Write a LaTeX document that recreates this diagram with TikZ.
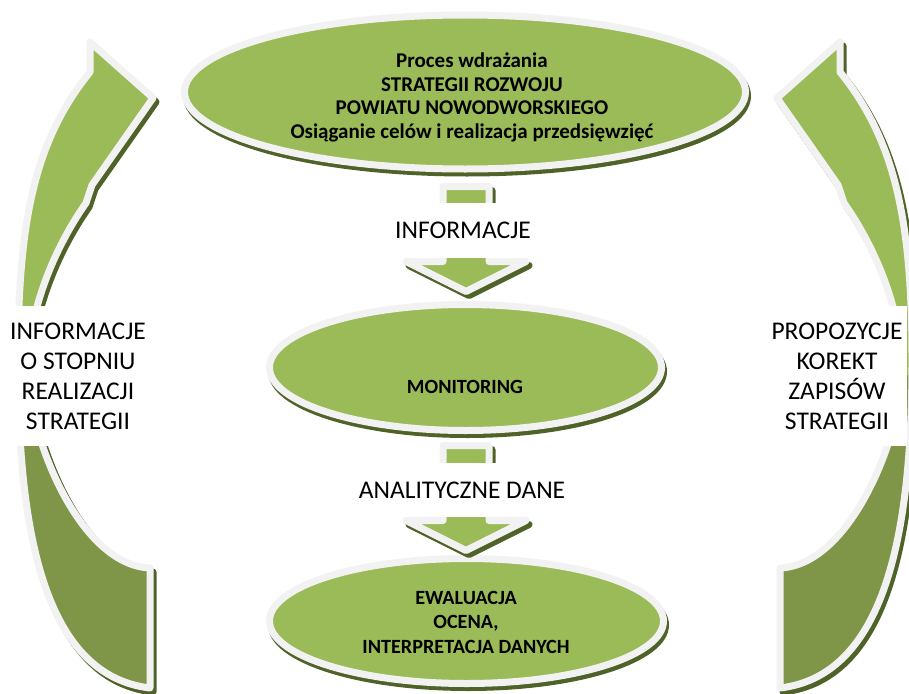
\documentclass[tikz,border=0pt]{standalone}
\usepackage{fontspec}
\setmainfont{Carlito}
\usetikzlibrary{positioning}
\definecolor{leafgreen}{HTML}{9BBB59}
\definecolor{olivegreen}{HTML}{7F9648}
\definecolor{shadowgreen}{HTML}{4F6228}
\definecolor{rimgray}{HTML}{F2F2F2}

\begin{document}
\begin{tikzpicture}[x=1pt,y=-1pt,
    rim/.style={draw=rimgray,line width=7pt,line join=round},
    shadowcast/.style={fill=shadowgreen,draw=shadowgreen,line width=7pt,line join=round},
    boldtext/.style={font=\fontsize{20.2}{24.5}\selectfont\bfseries,align=center},
    plaintext/.style={font=\fontsize{25.5}{30}\selectfont,align=center,fill=white},
    sidearrow/.pic={
        \def\sidepath{(90,72) -- (90,42) -- (153,98) -- (92,185) -- (86,203)
            .. controls (60,240) and (30,300) .. (27,370)
            .. controls (30,440) and (80,565) .. (150,568) -- (150,688)
            .. controls (40,675) and (18,520) .. (18,360)
            .. controls (18,220) and (35,140) .. (90,72) -- cycle}
        \path[shadowcast,shift={(#1,4)}] \sidepath;
        \fill[leafgreen] \sidepath;
        \begin{scope}
            \clip (0,375) rectangle (200,700);
            \fill[olivegreen] \sidepath;
        \end{scope}
        \path[rim] \sidepath;
    },
    downarrow/.pic={
        \def\downpath{(-23,-75) -- (23,-75) -- (23,0) -- (60,0) -- (0,30) -- (-60,0) -- (-23,0) -- cycle}
        \path[shadowcast,shift={(3,4)}] \downpath;
        \filldraw[fill=leafgreen,rim] \downpath;
    }]
    \useasboundingbox (0,0) rectangle (909,693);
    \clip (0,0) rectangle (909,693);

    % Feedback arrows at the sides
    \pic at (0,0) {sidearrow=3};
    \pic[xscale=-1] at (930,0) {sidearrow=-3};

    % Ovals
    \foreach \cx/\cy/\rx/\ry in {465/92/280.5/77, 465.5/367.5/196/63, 466.5/621/197/62.5} {
        \path[shadowcast] (\cx+2,\cy+4) ellipse [x radius=\rx, y radius=\ry];
        \filldraw[fill=leafgreen,rim] (\cx,\cy) ellipse [x radius=\rx, y radius=\ry];
    }

    % Flow arrows
    \pic at (466,261.5) {downarrow};
    \pic at (466,520.5) {downarrow};

    % Texts
    \node[boldtext,font=\fontsize{21}{23.5}\selectfont\bfseries] (proces) at (472,97.5) {Proces wdrażania\\STRATEGII ROZWOJU\\POWIATU NOWODWORSKIEGO\\Osiąganie celów i realizacja przedsięwzięć};
    \node[boldtext] (monitoring) at (465,387) {MONITORING};
    \node[boldtext] (ewaluacja) at (466,622) {EWALUACJA\\OCENA,\\INTERPRETACJA DANYCH};
    \node[plaintext,minimum height=55pt,inner xsep=2pt] (informacje) at (463,230.5) {INFORMACJE};
    \node[plaintext,minimum height=54pt,inner xsep=2pt] (dane) at (462,490) {ANALITYCZNE DANE};
    \node[plaintext,inner ysep=17pt,inner xsep=4pt] (stopien) at (78,376) {INFORMACJE\\O STOPNIU\\REALIZACJI\\STRATEGII};
    \node[plaintext,inner ysep=17pt,inner xsep=4pt] (korekty) at (837,376) {PROPOZYCJE\\KOREKT\\ZAPISÓW\\STRATEGII};
\end{tikzpicture}
\end{document}
